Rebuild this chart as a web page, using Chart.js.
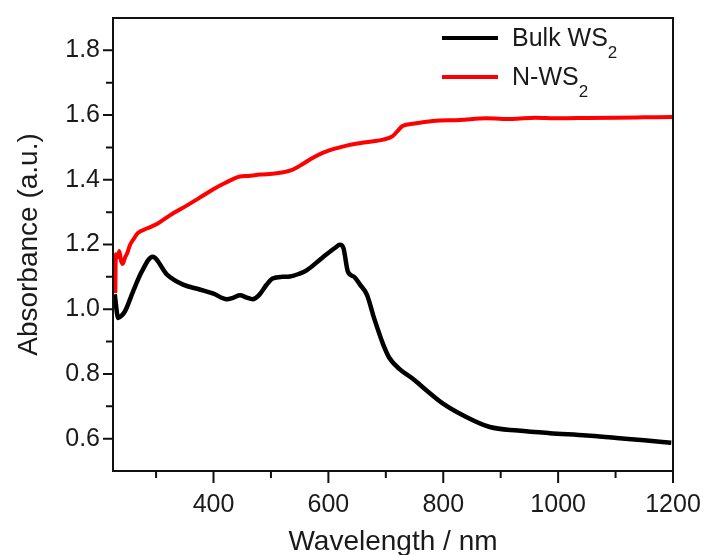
<!DOCTYPE html>
<html>
<head>
<meta charset="utf-8">
<script src="https://cdn.jsdelivr.net/npm/chart.js"></script>
<style>
  body { margin: 0; background: #fff; }
  #wrap { position: relative; width: 713px; height: 555px; }
  .leg { position: absolute; left: 442px; font: 25px "Liberation Sans", Arial, sans-serif; color: #1a1a1a; line-height: 25px; }
  .leg i { position: absolute; left: 0; width: 56px; height: 4px; }
  .leg span { position: absolute; left: 70px; top: 0; white-space: nowrap; }
  .leg sub { font-size: 17px; vertical-align: -12px; line-height: 0; }
</style>
</head>
<body>
<div id="wrap">
  <canvas id="absChart"></canvas>
  <div class="leg" style="top:25px"><i style="background:#000;top:11px"></i><span>Bulk WS<sub>2</sub></span></div>
  <div class="leg" style="top:64px"><i style="background:#f00;top:11px"></i><span>N-WS<sub>2</sub></span></div>
</div>
<script>
// Bulk WS2 (black)
const bulkWl  = [228, 234, 240, 246, 260, 275, 294, 319, 347, 376, 400, 423, 435, 446, 458, 468, 480, 492, 503, 520, 533, 550, 562, 590, 612, 620, 626, 634, 645, 655, 667, 680, 695, 706, 724, 747, 771, 799, 840, 881, 930, 985, 1050, 1102, 1150, 1197];
const bulkAbs = [1.046, 0.973, 0.98, 0.994, 1.055, 1.116, 1.162, 1.107, 1.076, 1.061, 1.048, 1.031, 1.036, 1.043, 1.036, 1.031, 1.045, 1.075, 1.095, 1.1, 1.101, 1.11, 1.12, 1.16, 1.19, 1.199, 1.19, 1.116, 1.1, 1.076, 1.045, 0.97, 0.893, 0.85, 0.815, 0.785, 0.749, 0.709, 0.667, 0.636, 0.625, 0.617, 0.61, 0.602, 0.595, 0.587];

// N-WS2 (red)
const nWl  = [229, 230, 233, 236, 239, 242, 246, 249, 255, 262, 268, 285, 303, 324, 354, 376, 399, 420, 446, 460, 481, 510, 533, 550, 570, 590, 615, 637, 665, 695, 712, 719, 729, 750, 782, 829, 875, 920, 960, 1000, 1050, 1100, 1150, 1199];
const nAbs = [1.05, 1.17, 1.16, 1.18, 1.15, 1.14, 1.16, 1.17, 1.2, 1.22, 1.235, 1.25, 1.265, 1.29, 1.321, 1.345, 1.37, 1.39, 1.41, 1.412, 1.416, 1.42, 1.428, 1.443, 1.465, 1.483, 1.498, 1.508, 1.516, 1.524, 1.535, 1.548, 1.566, 1.574, 1.582, 1.585, 1.59, 1.588, 1.592, 1.59, 1.591, 1.592, 1.593, 1.594];

const xMajor = [400, 600, 800, 1000, 1200];
const xMinor = [300, 500, 700, 900, 1100];
const yMajor = [0.6, 0.8, 1.0, 1.2, 1.4, 1.6, 1.8];
const yMinor = [0.7, 0.9, 1.1, 1.3, 1.5, 1.7];

const toPts = (xs, ys) => xs.map((v, i) => ({ x: v, y: ys[i] }));

const frame = {
  id: 'frame',
  afterDraw(chart) {
    const { ctx, chartArea: a, scales: { x, y } } = chart;
    ctx.save();
    ctx.strokeStyle = '#111';
    ctx.lineWidth = 2;
    ctx.strokeRect(a.left, a.top, a.right - a.left, a.bottom - a.top);
    ctx.beginPath();
    xMajor.forEach(v => { const p = x.getPixelForValue(v); ctx.moveTo(p, a.bottom); ctx.lineTo(p, a.bottom + 12); });
    xMinor.forEach(v => { const p = x.getPixelForValue(v); ctx.moveTo(p, a.bottom); ctx.lineTo(p, a.bottom + 7); });
    yMajor.forEach(v => { const p = y.getPixelForValue(v); ctx.moveTo(a.left, p); ctx.lineTo(a.left - 10, p); });
    yMinor.forEach(v => { const p = y.getPixelForValue(v); ctx.moveTo(a.left, p); ctx.lineTo(a.left - 7, p); });
    ctx.stroke();
    ctx.restore();
  }
};

const font = 'Liberation Sans, Arial, sans-serif';

new Chart(document.getElementById('absChart'), {
  type: 'line',
  data: {
    datasets: [
      { label: 'Bulk WS2', data: toPts(bulkWl, bulkAbs), borderColor: '#000', borderWidth: 4.5, pointRadius: 0, cubicInterpolationMode: 'monotone' },
      { label: 'N-WS2', data: toPts(nWl, nAbs), borderColor: '#f00', borderWidth: 4, pointRadius: 0, cubicInterpolationMode: 'monotone' }
    ]
  },
  options: {
    responsive: true,
    maintainAspectRatio: false,
    animation: false,
    layout: { padding: { left: 0, right: 40, top: 15, bottom: 0 } },
    plugins: { legend: { display: false }, tooltip: { enabled: false } },
    scales: {
      x: {
        type: 'linear', min: 225, max: 1200,
        afterBuildTicks: s => { s.ticks = xMajor.map(v => ({ value: v })); },
        afterFit: s => { s.height = 84; },
        grid: { display: true, drawOnChartArea: false, tickLength: 12, color: 'rgba(0,0,0,0)' },
        border: { display: false },
        ticks: { color: '#1a1a1a', font: { family: font, size: 25 }, padding: 7, maxRotation: 0, callback: v => String(v) },
        title: { display: true, text: 'Wavelength / nm', color: '#1a1a1a', font: { family: font, size: 28 }, padding: { top: 0, bottom: -4 } }
      },
      y: {
        min: 0.5, max: 1.9,
        afterBuildTicks: s => { s.ticks = yMajor.map(v => ({ value: v })); },
        afterFit: s => { s.width = 113; },
        grid: { display: true, drawOnChartArea: false, tickLength: 10, color: 'rgba(0,0,0,0)' },
        border: { display: false },
        ticks: { color: '#1a1a1a', font: { family: font, size: 25 }, padding: 3, callback: v => v.toFixed(1) },
        title: { display: true, text: 'Absorbance (a.u.)', color: '#1a1a1a', font: { family: font, size: 28 }, padding: { top: 12, bottom: 0 } }
      }
    }
  },
  plugins: [frame]
});
</script>
</body>
</html>
